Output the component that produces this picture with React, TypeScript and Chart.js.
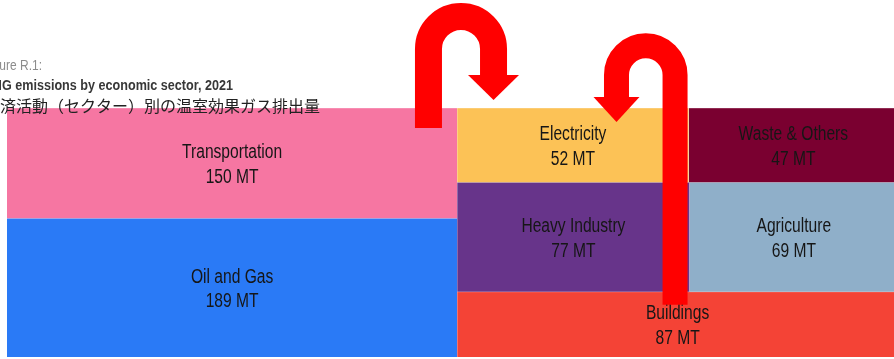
import React, { useEffect, useRef } from 'react';
import { Chart, registerables } from 'chart.js';

Chart.register(...registerables);

// ---- data ----
const sectors = ['Transportation', 'Oil and Gas', 'Electricity', 'Waste & Others', 'Heavy Industry', 'Agriculture', 'Buildings'];
const emissions = [150, 189, 52, 47, 77, 69, 87];
const colors = ['#F676A2', '#2A7AF6', '#FCC256', '#7A0030', '#67348A', '#8FAFC9', '#F44336'];
const unit = 'MT';
const figureLabel = 'Figure R.1:';
const titleEn = 'GHG emissions by economic sector, 2021';
const titleJa = '経済活動（セクター）別の温室効果ガス排出量';

// treemap nesting (slice-and-dice); leaves are indices into the arrays above
type TNode = { dir: 'h' | 'v'; children: (TNode | number)[] };
const LAYOUT: TNode = {
  dir: 'h',
  children: [
    { dir: 'v', children: [0, 1] },
    { dir: 'v', children: [{ dir: 'h', children: [2, 3] }, { dir: 'h', children: [4, 5] }, 6] },
  ],
};

// annotation arrows, in scale units (x: MT area units, y: fraction of height)
const arrows = [
  { tailX: 317.4, headX: 366.4, arcY: -0.237, tailY: 0.08, tipY: -0.032, width: 27, headW: 51, headL: 25 },
  { tailX: 503.1, headX: 459.0, arcY: -0.1325, tailY: 0.79, tipY: 0.0562, width: 25, headW: 46, headL: 25 },
];

type Rect = { x0: number; y0: number; x1: number; y1: number };

function nodeSum(n: TNode | number): number {
  if (typeof n === 'number') return emissions[n];
  return n.children.reduce((s, c) => s + nodeSum(c), 0);
}

function doLayout(n: TNode | number, r: Rect, out: Rect[]) {
  if (typeof n === 'number') {
    out[n] = r;
    return;
  }
  const total = nodeSum(n);
  let pos = n.dir === 'h' ? r.x0 : r.y0;
  for (const c of n.children) {
    const f = nodeSum(c) / total;
    if (n.dir === 'h') {
      const w = (r.x1 - r.x0) * f;
      doLayout(c, { x0: pos, y0: r.y0, x1: pos + w, y1: r.y1 }, out);
      pos += w;
    } else {
      const h = (r.y1 - r.y0) * f;
      doLayout(c, { x0: r.x0, y0: pos, x1: r.x1, y1: pos + h }, out);
      pos += h;
    }
  }
}

const TOTAL = nodeSum(LAYOUT);

export default function App() {
  const ref = useRef<HTMLCanvasElement>(null);

  useEffect(() => {
    if (!ref.current) return;
    const rects: Rect[] = [];
    doLayout(LAYOUT, { x0: 0, y0: 0, x1: TOTAL, y1: 1 }, rects);

    const datasets = sectors.map((name, i) => ({
      label: name,
      data: [
        { x: rects[i].x0, y: rects[i].y0 },
        { x: rects[i].x1, y: rects[i].y0 },
      ],
      showLine: true,
      fill: { value: rects[i].y1 },
      backgroundColor: colors[i],
      borderColor: 'rgba(255,255,255,0.35)',
      borderWidth: 1,
      pointRadius: 0,
      pointHoverRadius: 0,
    }));

    const overlay = {
      id: 'overlay',
      afterDatasetsDraw(chart: any) {
        const ctx = chart.ctx;
        const xs = chart.scales.x;
        const ys = chart.scales.y;
        ctx.save();
        ctx.fillStyle = '#161616';
        ctx.textAlign = 'center';
        ctx.textBaseline = 'middle';
        ctx.font = "20px 'Liberation Sans', Arial, sans-serif";
        sectors.forEach((name, i) => {
          const r = rects[i];
          const cx = xs.getPixelForValue((r.x0 + r.x1) / 2);
          const cy = ys.getPixelForValue((r.y0 + r.y1) / 2);
          ctx.save();
          ctx.translate(cx, cy);
          ctx.scale(0.78, 1);
          ctx.fillText(name, 0, -10.5);
          ctx.fillText(`${emissions[i]} ${unit}`, 0, 14);
          ctx.restore();
        });
        ctx.restore();
      },
      afterDraw(chart: any) {
        const ctx = chart.ctx;
        const xs = chart.scales.x;
        const ys = chart.scales.y;
        const left = chart.chartArea.left;
        ctx.save();
        // titles (cropped on the left as in the source)
        ctx.textBaseline = 'alphabetic';
        ctx.textAlign = 'right';
        ctx.fillStyle = '#8c8c8c';
        ctx.font = "15px 'Liberation Sans', Arial, sans-serif";
        ctx.save();
        ctx.translate(left + 35, 70);
        ctx.scale(0.8, 1);
        ctx.fillText(figureLabel, 0, 0);
        ctx.restore();

        ctx.fillStyle = '#383838';
        ctx.font = "bold 15px 'Liberation Sans', Arial, sans-serif";
        ctx.save();
        ctx.translate(left + 226, 90);
        ctx.scale(0.84, 1);
        ctx.fillText(titleEn, 0, 0);
        ctx.restore();

        ctx.fillStyle = '#222';
        ctx.font = "16px 'Noto Sans CJK JP', sans-serif";
        ctx.textBaseline = 'middle';
        ctx.fillText(titleJa, left + 313, 106);

        // red U-turn arrows
        ctx.strokeStyle = '#FF0000';
        ctx.fillStyle = '#FF0000';
        for (const a of arrows) {
          const tx = xs.getPixelForValue(a.tailX);
          const hx = xs.getPixelForValue(a.headX);
          const cyp = ys.getPixelForValue(a.arcY);
          const ty = ys.getPixelForValue(a.tailY);
          const tip = ys.getPixelForValue(a.tipY);
          const base = tip - a.headL;
          const cx = (tx + hx) / 2;
          const rad = Math.abs(hx - tx) / 2;
          ctx.lineWidth = a.width;
          ctx.lineCap = 'butt';
          ctx.beginPath();
          ctx.moveTo(tx, ty);
          ctx.lineTo(tx, cyp);
          if (tx < hx) ctx.arc(cx, cyp, rad, Math.PI, 2 * Math.PI, false);
          else ctx.arc(cx, cyp, rad, 0, Math.PI, true);
          ctx.lineTo(hx, base + 1);
          ctx.stroke();
          ctx.beginPath();
          ctx.moveTo(hx - a.headW / 2, base);
          ctx.lineTo(hx + a.headW / 2, base);
          ctx.lineTo(hx, tip);
          ctx.closePath();
          ctx.fill();
        }
        ctx.restore();
      },
    };

    const chart = new Chart(ref.current, {
      type: 'scatter',
      data: { datasets: datasets as any },
      options: {
        animation: false,
        responsive: false,
        devicePixelRatio: 1,
        layout: { padding: { left: 7, top: 108, right: 0, bottom: 2 } },
        scales: {
          x: { type: 'linear', min: 0, max: TOTAL, display: false },
          y: { type: 'linear', min: 0, max: 1, reverse: true, display: false },
        },
        plugins: {
          legend: { display: false },
          tooltip: { enabled: false },
          title: { display: false },
        },
        events: [],
      },
      plugins: [overlay],
    });
    return () => chart.destroy();
  }, []);

  return (
    <div style={{ position: 'fixed', left: 0, top: 0, width: 894, height: 359, overflow: 'hidden', background: '#fff' }}>
      <canvas ref={ref} width={898} height={359} style={{ display: 'block' }} />
    </div>
  );
}
